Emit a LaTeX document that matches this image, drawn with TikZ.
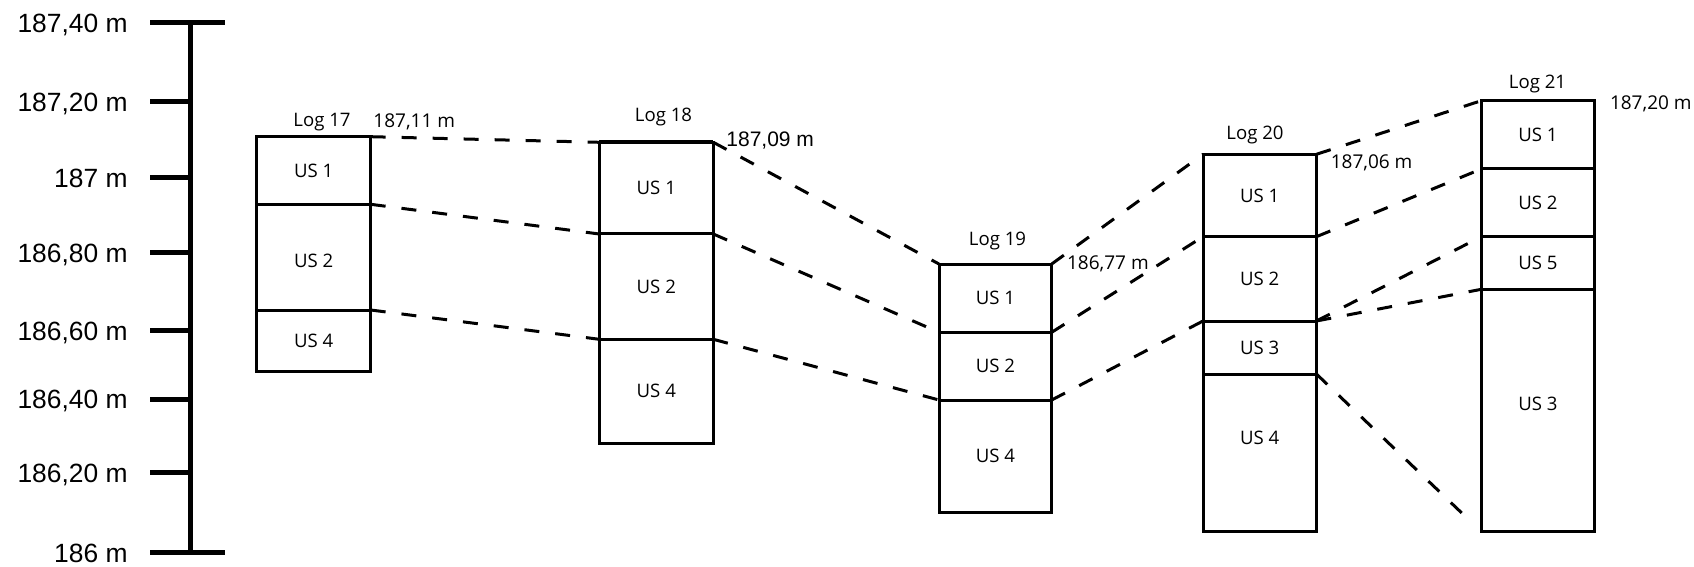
\documentclass[tikz,border=0pt]{standalone}
\usepackage{fontspec}
\setmainfont{Open Sans}
\newfontfamily\arialfont{Liberation Sans}
\usetikzlibrary{positioning}

\tikzset{
  layer/.style 2 args={draw, line width=1.5pt, outer sep=0pt, inner sep=0pt,
    minimum width=#1*0.5pt, minimum height=#2*0.5pt, font=\fontsize{9.3}{11}\selectfont},
  corr/.style={line width=1.5pt, dash pattern=on 7.5pt off 8pt},
  axis/.style={line width=2.5pt},
  lvl/.style={anchor=base east, inner sep=0pt, font=\arialfont\fontsize{13.2}{15}\selectfont},
  logname/.style={anchor=base, inner sep=0pt, font=\fontsize{9.3}{11}\selectfont},
  elev/.style={anchor=base west, inner sep=0pt, font=\fontsize{9.5}{11}\selectfont}
}

\begin{document}
\begin{tikzpicture}[x=0.5pt, y=-0.5pt]
\useasboundingbox (0,0) rectangle (1694,567);

% altitude scale
\draw[axis] (190,22.7) -- (190,552.7);
\draw[axis] (150,22.7) -- (225,22.7);
\draw[axis] (150,552.7) -- (225,552.7);
\foreach \y/\t [count=\i] in {22.7/{187,40 m}, 101.7/{187,20 m}, 177.7/{187 m}, 252.7/{186,80 m},
    330.7/{186,60 m}, 399/{186,40 m}, 472.7/{186,20 m}, 552.7/{186 m}}{
  \draw[axis] (150,\y) -- (190,\y);
  \node[lvl] (lv\i) at (128,\y+9.5) {\t};
}

% Log 17
\node[layer={114}{67.6}, anchor=north west] (l17a) at (256.7,136.7) {US 1};
\node[layer={114}{105.7}, below=0pt of l17a] (l17b) {\raisebox{-2pt}[\height][\depth]{US 2}};
\node[layer={114}{61}, below=0pt of l17b] (l17c) {US 4};
\node[logname] (n17) at (322,126.7) {Log 17};
\node[elev] (e17) at (373,128) {187,11 m};

% Log 18
\node[layer={114}{91.7}, anchor=north west] (l18a) at (599.3,142.3) {US 1};
\node[layer={114}{105.3}, below=0pt of l18a] (l18b) {US 2};
\node[layer={114}{104}, below=0pt of l18b] (l18c) {US 4};
\draw[line width=2pt] (l18a.north west) -- (l18a.north east);
\node[logname] (n18) at (663.5,121.7) {Log 18};
\node[elev, font=\arialfont\fontsize{10.5}{12}\selectfont] (e18) at (726,146.7) {187,09 m};

% Log 19
\node[layer={112.7}{68.3}, anchor=north west] (l19a) at (939,264) {US 1};
\node[layer={112.7}{67.7}, below=0pt of l19a] (l19b) {US 2};
\node[layer={112.7}{112.7}, below=0pt of l19b] (l19c) {US 4};
\node[logname] (n19) at (997.5,245) {Log 19};
\node[elev] (e19) at (1066.7,270) {186,77 m};

% Log 20
\node[layer={113.4}{82.4}, anchor=north west] (l20a) at (1203,154.3) {US 1};
\node[layer={113.4}{84.3}, below=0pt of l20a] (l20b) {US 2};
\node[layer={113.4}{53}, below=0pt of l20b] (l20c) {US 3};
\node[layer={113.4}{157.7}, below=0pt of l20c] (l20d) {\raisebox{7.5pt}[\height][\depth]{US 4}};
\node[logname] (n20) at (1255,140) {Log 20};
\node[elev] (e20) at (1330.4,168.3) {187,06 m};

% Log 21
\node[layer={113.4}{68.3}, anchor=north west] (l21a) at (1481.3,100.7) {US 1};
\node[layer={113.4}{67.7}, below=0pt of l21a] (l21b) {US 2};
\node[layer={113.4}{52.6}, below=0pt of l21b] (l21c) {US 5};
\node[layer={113.4}{242.4}, below=0pt of l21c] (l21d) {\raisebox{3.5pt}[\height][\depth]{US 3}};
\node[logname] (n21) at (1537.5,88.3) {Log 21};
\node[elev] (e21) at (1609.6,109.3) {187,20 m};

% correlations
\draw[corr] (l17a.north east) -- (l18a.north west);
\draw[corr] (l17a.south east) -- (l18a.south west);
\draw[corr] (l17b.south east) -- (l18b.south west);

\draw[corr] (l18a.north east) -- (l19a.north west);
\draw[corr] (l18a.south east) -- (l19a.south west);
\draw[corr] (l18b.south east) -- (l19b.south west);

\draw[corr] (l19a.north east) -- (l20a.north west);
\draw[corr] (l19a.south east) -- (l20a.south west);
\draw[corr] (l19b.south east) -- (l20b.south west);

\draw[corr] (l20a.north east) -- (l21a.north west);
\draw[corr] (l20a.south east) -- (l21a.south west);
\draw[corr] (l20b.south east) -- (l21b.south west);
\draw[corr] (l20b.south east) -- (l21c.south west);
\draw[corr, shorten >=9.5pt] (l20c.south east) -- (l21d.south west);
\end{tikzpicture}
\end{document}
